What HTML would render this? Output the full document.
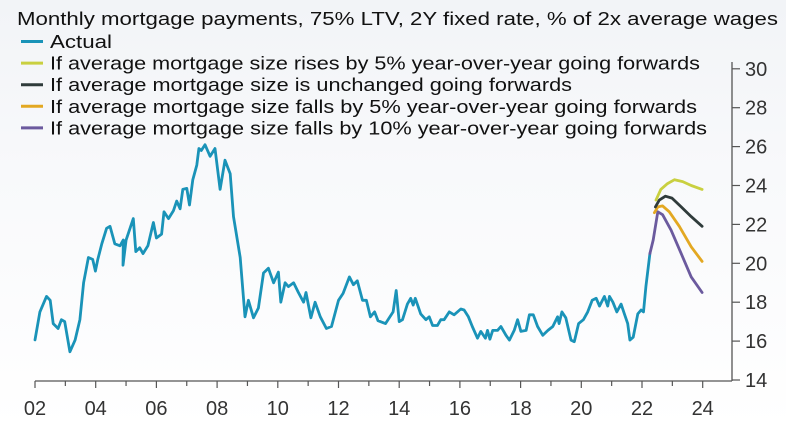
<!DOCTYPE html>
<html><head><meta charset="utf-8"><style>
html,body{margin:0;padding:0;}
body{width:786px;height:428px;overflow:hidden;background:linear-gradient(#f2f4f7 0%,#f8f9fb 40%,#ffffff 100%);font-family:"Liberation Sans",sans-serif;}
svg{display:block}
</style></head><body>
<svg id="chart" width="786" height="428" xmlns="http://www.w3.org/2000/svg">
<text x="17" y="25" font-size="18" fill="#111" textLength="761" lengthAdjust="spacingAndGlyphs">Monthly mortgage payments, 75% LTV, 2Y fixed rate, % of 2x average wages</text>
<g id="legend"></g>
<g id="axes"></g>
<g id="series"></g>
</svg>
<script>
const actualYears=[2002.0,2002.16,2002.38,2002.5,2002.6,2002.76,2002.87,2002.98,2003.15,2003.32,2003.48,2003.6,2003.76,2003.9,2003.99,2004.07,2004.2,2004.36,2004.47,2004.63,2004.8,2004.91,2004.9,2005.0,2005.24,2005.32,2005.45,2005.56,2005.72,2005.9,2006.0,2006.17,2006.25,2006.4,2006.56,2006.67,2006.78,2006.87,2007.0,2007.09,2007.2,2007.33,2007.4,2007.48,2007.6,2007.77,2007.93,2008.1,2008.26,2008.43,2008.54,2008.76,2008.92,2009.03,2009.2,2009.36,2009.53,2009.69,2009.86,2010.02,2010.1,2010.24,2010.35,2010.52,2010.68,2010.85,2010.93,2011.09,2011.23,2011.4,2011.6,2011.77,2012.0,2012.15,2012.36,2012.49,2012.62,2012.79,2012.92,2013.05,2013.19,2013.3,2013.55,2013.8,2013.9,2014.0,2014.11,2014.27,2014.38,2014.46,2014.53,2014.71,2014.88,2014.99,2015.1,2015.26,2015.37,2015.48,2015.65,2015.81,2016.03,2016.14,2016.28,2016.41,2016.58,2016.69,2016.84,2016.91,2016.99,2017.08,2017.24,2017.35,2017.52,2017.63,2017.79,2017.9,2018.01,2018.18,2018.29,2018.42,2018.56,2018.73,2018.9,2019.06,2019.22,2019.27,2019.36,2019.49,2019.66,2019.77,2019.91,2020.07,2020.21,2020.36,2020.49,2020.6,2020.76,2020.87,2020.93,2021.04,2021.17,2021.31,2021.42,2021.53,2021.6,2021.71,2021.86,2021.97,2022.05,2022.13,2022.26];
const actualValues=[16.06,17.5,18.3,18.1,16.9,16.65,17.1,17.0,15.45,16.05,17.1,19.0,20.3,20.2,19.6,20.2,21.0,21.8,21.9,21.0,20.9,21.2,19.9,21.2,22.3,20.6,20.8,20.5,20.9,22.1,21.3,21.5,22.65,22.3,22.7,23.2,22.8,23.8,23.85,23.0,24.3,25.05,25.9,25.8,26.1,25.5,25.9,23.8,25.3,24.6,22.4,20.3,17.25,18.1,17.2,17.7,19.5,19.75,19.0,19.55,18.0,19.0,18.8,19.0,18.5,18.0,18.5,17.2,18.0,17.25,16.65,16.75,18.1,18.45,19.3,18.9,19.1,18.1,18.1,17.25,17.5,17.05,16.9,17.5,18.6,17.0,17.1,17.9,18.2,17.85,18.2,17.4,17.1,17.25,16.8,16.8,17.1,17.1,17.5,17.35,17.65,17.6,17.25,16.75,16.15,16.5,16.15,16.55,16.1,16.55,16.55,16.75,16.3,16.05,16.55,17.1,16.5,16.55,17.35,17.35,16.75,16.3,16.55,16.75,17.25,16.9,17.5,17.2,16.05,15.97,16.9,17.1,17.5,18.1,18.2,17.8,18.3,17.8,18.3,18.0,17.5,17.9,17.4,16.9,16.05,16.2,17.4,17.6,17.5,18.8,20.5];
const riseYears=[2022.46,2022.62,2022.84,2023.07,2023.34,2023.62,2023.98];
const riseValues=[23.25,23.8,24.1,24.3,24.2,24.0,23.8];
const flatYears=[2022.44,2022.57,2022.77,2022.99,2023.29,2023.62,2023.98];
const flatValues=[22.9,23.25,23.45,23.35,22.9,22.4,21.9];
const fall5Years=[2022.41,2022.52,2022.68,2022.9,2023.23,2023.62,2023.98];
const fall5Values=[22.6,22.9,22.95,22.65,21.9,20.85,20.1];
const fall10Years=[2022.26,2022.37,2022.52,2022.68,2022.96,2023.29,2023.62,2023.98];
const fall10Values=[20.5,21.2,22.65,22.5,21.7,20.5,19.3,18.5];
const yTicks=[14,16,18,20,22,24,26,28,30];
const xTickLabels=["02","04","06","08","10","12","14","16","18","20","22","24"];
const legendLabels=["Actual","If average mortgage size rises by 5% year-over-year going forwards","If average mortgage size is unchanged going forwards","If average mortgage size falls by 5% year-over-year going forwards","If average mortgage size falls by 10% year-over-year going forwards"];

const NS="http://www.w3.org/2000/svg";
const X0=35,PXY=30.35,Y0=380,PXV=19.45;
function xs(yr){return X0+(yr-2002)*PXY;}
function ys(v){return Y0-(v-14)*PXV;}
function mk(tag,attrs,parent){const e=document.createElementNS(NS,tag);for(const k in attrs)e.setAttribute(k,attrs[k]);parent.appendChild(e);return e;}
const colors=["#1a93b8","#c9d040","#2f3b3b","#e3a822","#6b5a9e"];
const legendW=[62,650,522,647,657];
const lg=document.getElementById('legend');
legendLabels.forEach((t,i)=>{
  const y=41.5+i*21.6;
  const ln=mk('line',{x1:21,x2:43,y1:y,y2:y,stroke:colors[i],'stroke-width':3},lg);
  
  
  const tx=mk('text',{x:50,y:y+6.5,'font-size':18,fill:'#111',textLength:legendW[i],lengthAdjust:'spacingAndGlyphs'},lg);
  tx.textContent=t;
  
  
});
const ax=document.getElementById('axes');
const xl=mk('line',{x1:35,x2:732,y1:381,y2:381,stroke:'#555','stroke-width':1.3},ax);


const yl=mk('line',{x1:732,x2:732,y1:62,y2:381,stroke:'#555','stroke-width':1.3},ax);


for(let yr=2002;yr<=2024;yr++){
  const x=xs(yr);
  const tk=mk('line',{x1:x,x2:x,y1:381,y2:yr%2===0?388:386,stroke:'#555','stroke-width':1.2},ax);
  
  
}
xTickLabels.forEach((l,i)=>{
  const t=mk('text',{x:xs(2002+i*2),y:415,'font-size':20,fill:'#333','text-anchor':'middle'},ax);
  t.textContent=l;
  
  
});
yTicks.forEach(v=>{
  const y=ys(v);
  const tk=mk('line',{x1:732,x2:740,y1:y,y2:y,stroke:'#555','stroke-width':1.2},ax);
  
  
  const t=mk('text',{x:745,y:y+7,'font-size':20,fill:'#333'},ax);
  t.textContent=v;
  
  
});
const sg=document.getElementById('series');
const sets=[[actualYears,actualValues,'actual-line'],[fall10Years,fall10Values,'fall-10pct-line'],[fall5Years,fall5Values,'fall-5pct-line'],[flatYears,flatValues,'unchanged-line'],[riseYears,riseValues,'rise-5pct-line']];
const colIdx=[0,4,3,2,1];
sets.forEach((s,i)=>{
  const d=s[0].map((yr,j)=>(j?'L':'M')+xs(yr).toFixed(1)+','+ys(s[1][j]).toFixed(1)).join('');
  const p=mk('path',{d:d,fill:'none',stroke:colors[colIdx[i]],'stroke-width':2.8,'stroke-linejoin':'round','stroke-linecap':'round'},sg);
  
  
});
</script>
</body></html>
